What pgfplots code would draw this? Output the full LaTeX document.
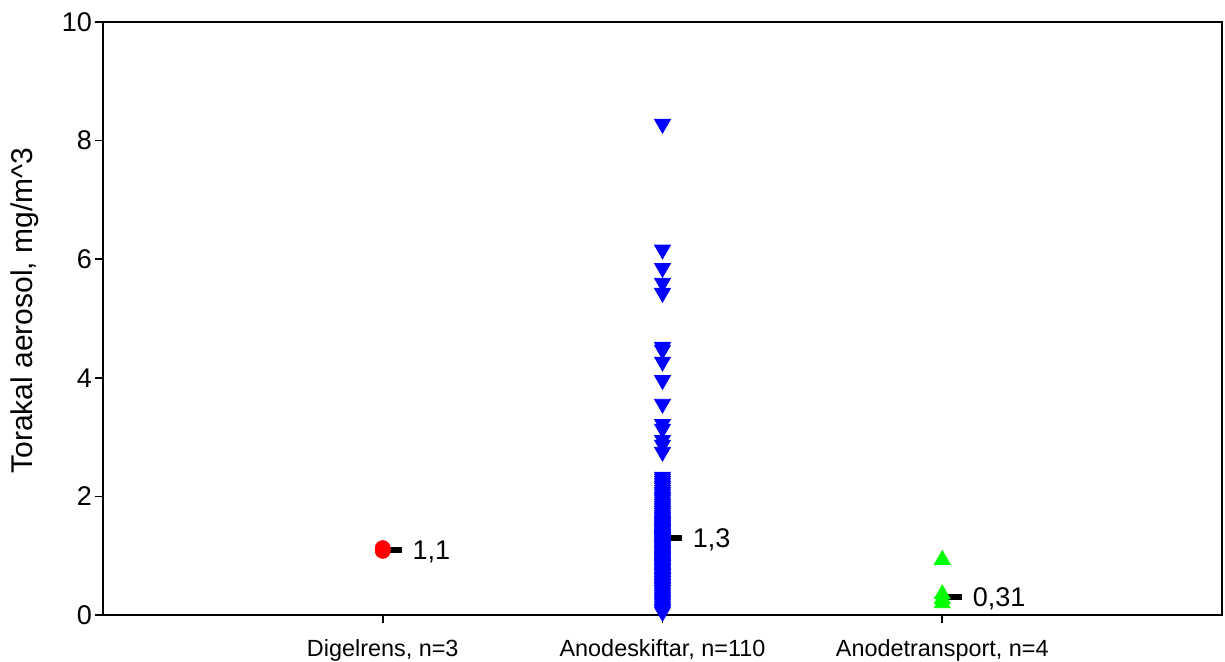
\documentclass[border=0pt]{standalone}
\usepackage{fontspec}
\setmainfont{Liberation Sans}
\usepackage{pgfplots}
\pgfplotsset{compat=1.18}

\definecolor{ptred}{RGB}{255,0,0}
\definecolor{ptblue}{RGB}{0,0,255}
\definecolor{ptgreen}{RGB}{0,255,0}

\begin{document}
\begin{tikzpicture}
\begin{axis}[
  scale only axis,
  width=559.5pt, height=296.5pt,
  xmin=0, xmax=4,
  ymin=0, ymax=10,
  xtick={1,2,3},
  xticklabels={{Digelrens, n=3},{Anodeskiftar, n=110},{Anodetransport, n=4}},
  ytick={0,2,4,6,8,10},
  xtick pos=bottom, ytick pos=left,
  tick align=outside,
  major tick length=4pt,
  axis line style={line width=0.8pt},
  every tick/.style={black, line width=0.8pt},
  /pgf/number format/assume math mode=true,
  xticklabel style={font=\fontsize{11.7}{14}\selectfont, yshift=-4.5pt},
  yticklabel style={font=\fontsize{13.5}{15}\selectfont, xshift=2pt},
  ylabel={Torakal aerosol, mg/m\^{}3},
  ylabel style={font=\fontsize{15}{17}\selectfont, at={(axis description cs:0,0.5)}, anchor=center, yshift=39pt, xshift=4pt},
  clip=false,
]
% Digelrens
\addplot[only marks, mark=*, mark size=3.7pt, color=ptred] coordinates {
  (1,1.08) (1,1.10) (1,1.13)
};
% Anodeskiftar
\addplot[only marks, mark=triangle*, mark size=4.6pt, color=ptblue,
  mark options={rotate=180}] coordinates {
  (2,8.28) (2,6.16) (2,5.85) (2,5.60) (2,5.43)
  (2,4.52) (2,4.47) (2,4.27) (2,3.96) (2,3.56)
  (2,3.22) (2,3.14) (2,2.95) (2,2.87) (2,2.75)
  (2,2.33) (2,2.30) (2,2.26) (2,2.22) (2,2.18)
  (2,2.15) (2,2.11) (2,2.07) (2,2.04) (2,2.00)
  (2,1.97) (2,1.94) (2,1.90) (2,1.87) (2,1.84)
  (2,1.81) (2,1.78) (2,1.75) (2,1.72) (2,1.69)
  (2,1.66) (2,1.64) (2,1.61) (2,1.59) (2,1.57)
  (2,1.55) (2,1.53) (2,1.51) (2,1.49) (2,1.47)
  (2,1.45) (2,1.43) (2,1.41) (2,1.39) (2,1.37)
  (2,1.36) (2,1.34) (2,1.33) (2,1.32) (2,1.31)
  (2,1.29) (2,1.28) (2,1.26) (2,1.24) (2,1.22)
  (2,1.20) (2,1.18) (2,1.16) (2,1.14) (2,1.12)
  (2,1.10) (2,1.08) (2,1.06) (2,1.04) (2,1.02)
  (2,1.00) (2,0.98) (2,0.96) (2,0.94) (2,0.92)
  (2,0.90) (2,0.88) (2,0.86) (2,0.84) (2,0.82)
  (2,0.80) (2,0.78) (2,0.76) (2,0.73) (2,0.71)
  (2,0.69) (2,0.67) (2,0.64) (2,0.62) (2,0.60)
  (2,0.57) (2,0.55) (2,0.52) (2,0.50) (2,0.47)
  (2,0.45) (2,0.42) (2,0.40) (2,0.37) (2,0.34)
  (2,0.31) (2,0.28) (2,0.25) (2,0.22) (2,0.19)
  (2,0.16) (2,0.13) (2,0.10) (2,0.08) (2,0.05)
};
% Anodetransport
\addplot[only marks, mark=triangle*, mark size=4.6pt, color=ptgreen] coordinates {
  (3,0.93) (3,0.35) (3,0.27) (3,0.20)
};
% medians
\addplot[black, line width=3pt] coordinates {(1.015,1.1) (1.069,1.1)}
  node[pos=1, anchor=west, xshift=0.5pt, yshift=-1pt, font=\fontsize{13.5}{16}\selectfont] {1,1};
\addplot[black, line width=3pt] coordinates {(2.009,1.3) (2.070,1.3)}
  node[pos=1, anchor=west, xshift=0.5pt, yshift=-1pt, font=\fontsize{13.5}{16}\selectfont] {1,3};
\addplot[black, line width=3pt] coordinates {(3.010,0.31) (3.071,0.31)}
  node[pos=1, anchor=west, xshift=0.5pt, yshift=-1pt, font=\fontsize{13.5}{16}\selectfont] {0,31};
\end{axis}
\pgfresetboundingbox
\path[use as bounding box] ([xshift=-51.5pt, yshift=-23.5pt]current axis.south west)
  rectangle ([xshift=1.5pt, yshift=11pt]current axis.north east);
\end{tikzpicture}
\end{document}
